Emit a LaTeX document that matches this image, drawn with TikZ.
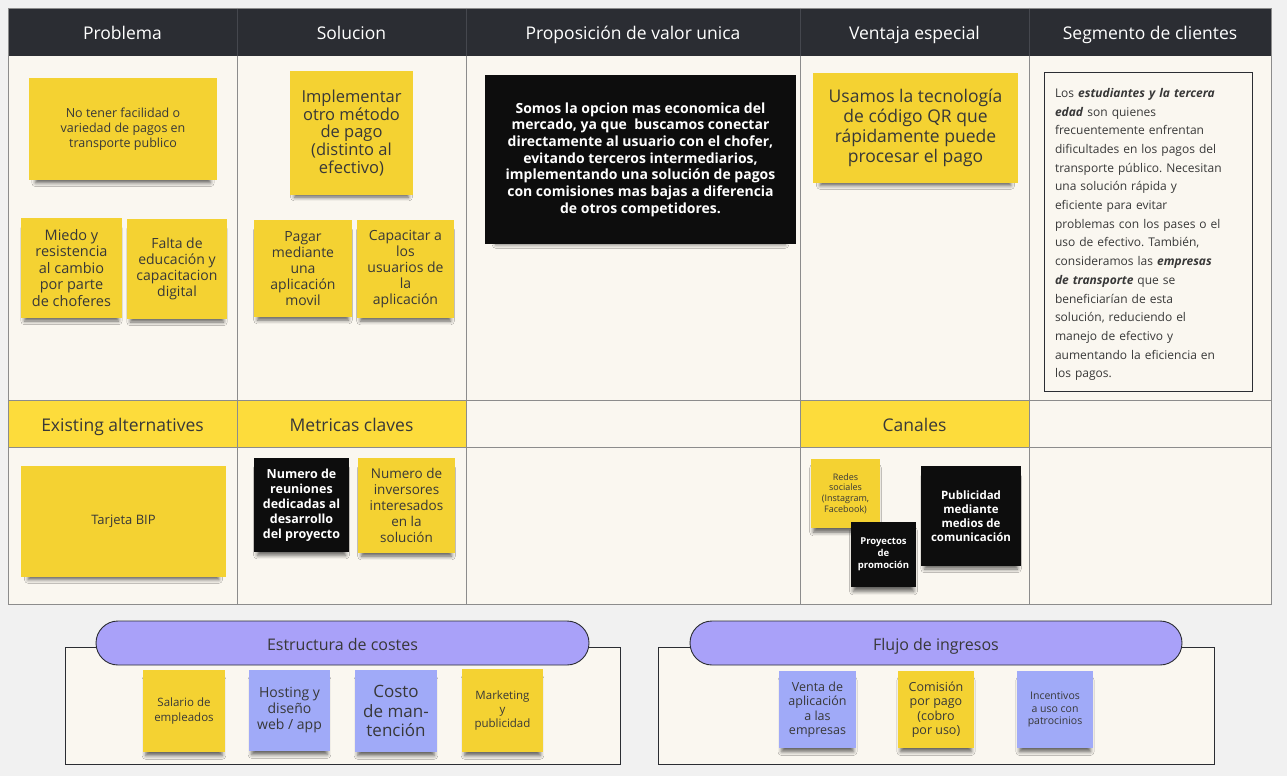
\documentclass[tikz,border=0pt]{standalone}
\usepackage{fontspec}
\setmainfont{Open Sans}
\usetikzlibrary{shadows.blur}
\frenchspacing

\definecolor{pagegray}{HTML}{F1F1F1}
\definecolor{canvas}{HTML}{FAF7F0}
\definecolor{headdark}{HTML}{2B2D33}
\definecolor{headline}{HTML}{45474E}
\definecolor{headyellow}{HTML}{FDDC3B}
\definecolor{noteyellow}{HTML}{F4D232}
\definecolor{noteblack}{HTML}{0D0D0D}
\definecolor{noteblue}{HTML}{A0AAF8}
\definecolor{pillviolet}{HTML}{A9A1F9}
\definecolor{gridline}{HTML}{8C8C8C}
\definecolor{inktext}{HTML}{383838}

\newcommand{\fsz}[2]{\fontsize{#1}{#2}\selectfont}

\tikzset{
  sticky/.style={align=center, inner sep=1pt, text=inktext,
    blur shadow={shadow xshift=0pt, shadow yshift=-7pt, shadow scale=0.93,
      shadow blur radius=4pt, shadow opacity=60}},
  yellownote/.style={sticky, fill=noteyellow},
  bluenote/.style={sticky, fill=noteblue},
  blacknote/.style={sticky, fill=noteblack, text=white},
  colhead/.style={text=white, font=\fsz{17.5}{20}, text height=12.5pt, text depth=3.5pt},
  rowhead/.style={text=inktext, font=\fsz{17.5}{20}, text height=12.5pt, text depth=3.5pt},
  pill/.style={draw=headdark, fill=pillviolet, line width=0.9pt, rounded corners=22pt,
    text=inktext, font=\fsz{16}{18}, text height=15.5pt, text depth=1.5pt},
}

\begin{document}
\begin{tikzpicture}[x=1pt,y=-1pt]
\useasboundingbox[fill=pagegray] (0,0) rectangle (1287,776);

% lienzo
\fill[canvas] (8,8) rectangle (1271,604);
\fill[headdark] (8,8) rectangle (1271,56);
\fill[headyellow] (8,400) rectangle (466,447);
\fill[headyellow] (800,400) rectangle (1029,447);
\foreach \x in {237,466,800,1029} {
  \draw[headline, line width=0.8pt] (\x,8) -- (\x,56);
  \draw[gridline, line width=0.8pt] (\x,56) -- (\x,604);
}
\foreach \y in {400,447}
  \draw[gridline, line width=0.8pt] (8,\y) -- (1271,\y);
\draw[gridline, line width=0.8pt] (8,8) rectangle (1271,604);

\node[colhead] (hproblema) at (122.5,35) {Problema};
\node[colhead] (hsolucion) at (351.5,35) {Solucion};
\node[colhead] (hvalor) at (633,35) {Proposición de valor unica};
\node[colhead] (hventaja) at (914.5,35) {Ventaja especial};
\node[colhead] (hsegmento) at (1150,35) {Segmento de clientes};

\node[rowhead] (halternativas) at (122.5,427) {Existing alternatives};
\node[rowhead] (hmetricas) at (351.5,427) {Metricas claves};
\node[rowhead] (hcanales) at (914.5,427) {Canales};

% problema
\node[yellownote, minimum width=188pt, minimum height=102pt, font=\fsz{12.5}{15}]
  (prob1) at (123,129) {No tener facilidad o\\variedad de pagos en\\transporte publico};
\node[yellownote, minimum width=101pt, minimum height=100pt, font=\fsz{14.5}{16.5}]
  (prob2) at (71.5,268) {Miedo y\\resistencia\\al cambio\\por parte\\de choferes};
\node[yellownote, minimum width=100pt, minimum height=100pt, font=\fsz{14}{16}]
  (prob3) at (177,269) {Falta de\\educación y\\capacitacion\\digital};

% solucion
\node[yellownote, minimum width=123pt, minimum height=124pt, font=\fsz{16.5}{17.7}]
  (sol1) at (351.5,133) {Implementar\\otro método\\de pago\\(distinto al\\efectivo)};
\node[yellownote, minimum width=98pt, minimum height=97pt, font=\fsz{14}{16}]
  (sol2) at (303,268.5) {Pagar\\mediante\\una\\aplicación\\movil};
\node[yellownote, minimum width=97pt, minimum height=98pt, font=\fsz{14}{16}]
  (sol3) at (405.5,269) {Capacitar a\\los\\usuarios de\\la\\aplicación};

% propuesta de valor
\node[blacknote, minimum width=311pt, minimum height=169pt, font=\fsz{14}{16.7}\bfseries]
  (valor1) at (640.5,159.5) {Somos la opcion mas economica del\\mercado, ya que\ \ buscamos conectar\\directamente al usuario con el chofer,\\evitando terceros intermediarios,\\implementando una solución de pagos\\con comisiones mas bajas a diferencia\\de otros competidores.};

% ventaja
\node[yellownote, minimum width=205pt, minimum height=110pt, font=\fsz{17.5}{20}]
  (ventaja1) at (915.5,128) {Usamos la tecnología\\de código QR que\\rápidamente puede\\procesar el pago};

% segmento
\draw[headdark, fill=canvas, line width=0.9pt] (1044,72) rectangle (1252,391);
\node[inner sep=0pt, text width=186pt, align=left, text=inktext, font=\fsz{12}{18.7}]
  (segmento1) at (1148,234.5) {Los \textbf{\textit{estudiantes y la tercera}}\\\textbf{\textit{edad}} son quienes\\frecuentemente enfrentan\\dificultades en los pagos del\\transporte público. Necesitan\\una solución rápida y\\eficiente para evitar\\problemas con los pases o el\\uso de efectivo. También,\\consideramos las \textbf{\textit{empresas}}\\\textbf{\textit{de transporte}} que se\\beneficiarían de esta\\solución, reduciendo el\\manejo de efectivo y\\aumentando la eficiencia en\\los pagos.};

% alternativas
\node[yellownote, minimum width=205pt, minimum height=111pt, font=\fsz{13}{15}]
  (alt1) at (123.5,521.5) {Tarjeta BIP};

% metricas
\node[blacknote, minimum width=95pt, minimum height=94pt, font=\fsz{12.5}{15}\bfseries]
  (met1) at (301.5,505) {Numero de\\reuniones\\dedicadas al\\desarrollo\\del proyecto};
\node[yellownote, minimum width=97pt, minimum height=95pt, font=\fsz{13.5}{15.8}]
  (met2) at (406.5,505.5) {Numero de\\inversores\\interesados\\en la\\solución};

% canales
\node[yellownote, minimum width=69pt, minimum height=69pt, font=\fsz{9}{10.8}]
  (can1) at (845.5,493.5) {Redes\\sociales\\(Instagram,\\Facebook)};
\node[blacknote, minimum width=65pt, minimum height=65pt, font=\fsz{9.5}{12}\bfseries]
  (can2) at (883.5,554.5) {Proyectos\\de\\promoción};
\node[blacknote, minimum width=100pt, minimum height=100pt, font=\fsz{11.5}{14}\bfseries]
  (can3) at (971,516) {Publicidad\\mediante\\medios de\\comunicación};

% costes
\draw[headdark, fill=canvas, line width=0.9pt] (65,647) rectangle (620,764);
\node[pill, minimum width=493pt, minimum height=44pt] (costes) at (342.5,643) {Estructura de costes};
\node[yellownote, minimum width=82pt, minimum height=82pt, font=\fsz{11.5}{14.5}]
  (cos1) at (184,711) {Salario de\\empleados};
\node[bluenote, minimum width=81pt, minimum height=81pt, font=\fsz{14}{16}]
  (cos2) at (289.5,710.5) {Hosting y\\diseño\\web / app};
\node[bluenote, minimum width=82pt, minimum height=82pt, font=\fsz{17}{19.5}]
  (cos3) at (396,711) {Costo\\de man-\\tención};
\node[yellownote, minimum width=81pt, minimum height=83pt, font=\fsz{11.5}{14}]
  (cos4) at (502.5,710.5) {Marketing\\y\\publicidad};

% ingresos
\draw[headdark, fill=canvas, line width=0.9pt] (658,647) rectangle (1214,764);
\node[pill, minimum width=492pt, minimum height=44pt] (ingresos) at (936,643) {Flujo de ingresos};
\node[bluenote, minimum width=77pt, minimum height=77pt, font=\fsz{12.5}{14.5}]
  (ing1) at (817.5,709.5) {Venta de\\aplicación\\a las\\empresas};
\node[yellownote, minimum width=76pt, minimum height=77pt, font=\fsz{12.5}{14.5}]
  (ing2) at (936,709.5) {Comisión\\por pago\\(cobro\\por uso)};
\node[bluenote, minimum width=76pt, minimum height=77pt, font=\fsz{10.5}{12.5}]
  (ing3) at (1055,709.5) {Incentivos\\a uso con\\patrocinios};
\end{tikzpicture}
\end{document}
